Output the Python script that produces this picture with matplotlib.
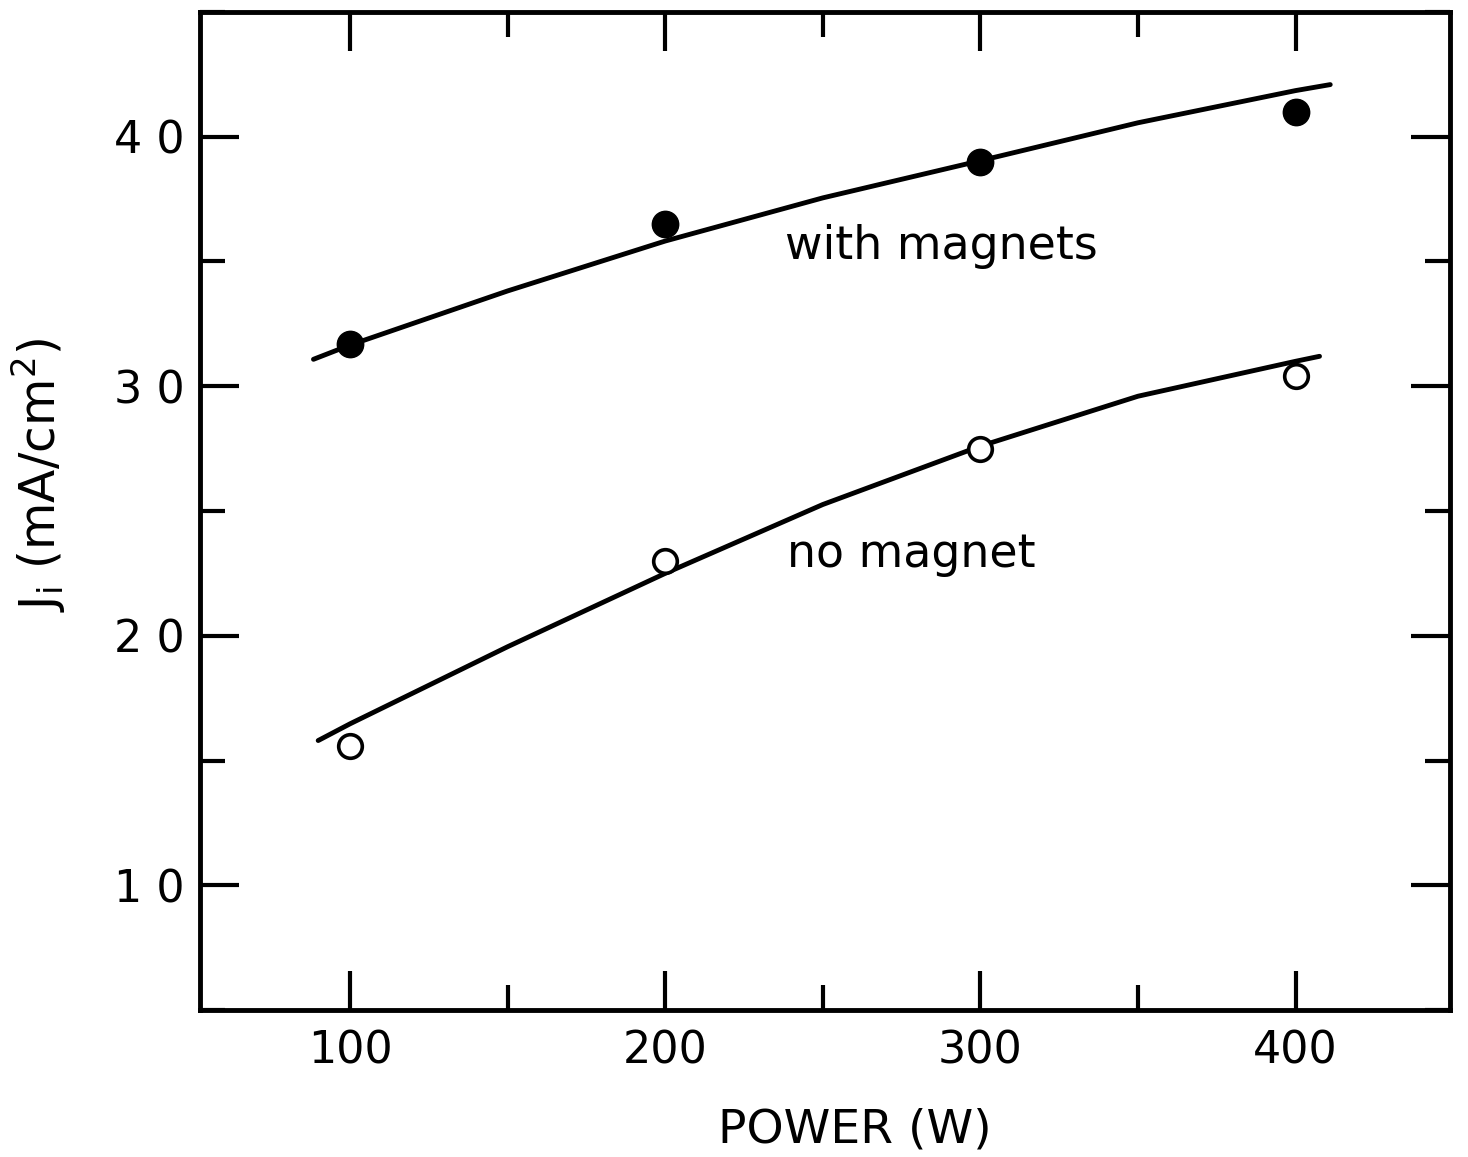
import matplotlib.pyplot as plt
from matplotlib.ticker import MultipleLocator

# measured points
power = [100, 200, 300, 400]
j_magnets = [31.7, 36.5, 39.0, 41.0]
j_no_magnet = [15.6, 23.0, 27.5, 30.4]

# hand-drawn curves
curve_power_mag = [88.4, 100, 150, 200, 250, 300, 350, 400, 411]
curve_mag = [31.08, 31.65, 33.82, 35.82, 37.55, 39.04, 40.56, 41.85, 42.09]
curve_power_no = [89.9, 100, 150, 200, 250, 300, 350, 400, 407.6]
curve_no = [15.8, 16.47, 19.56, 22.5, 25.26, 27.6, 29.6, 31.0, 31.2]

y_ticks = [10, 20, 30, 40]
y_ticklabels = ['1 0', '2 0', '3 0', '4 0']

plt.rcParams['font.family'] = ['DejaVu Sans']

fig = plt.figure(figsize=(14.68, 11.57), dpi=100)
ax = fig.add_axes([200 / 1468, 1 - 1010 / 1157, 1250 / 1468, 998 / 1157])

ax.plot(curve_power_mag, curve_mag, color='black', lw=3.5, solid_capstyle='round')
ax.plot(curve_power_no, curve_no, color='black', lw=3.5, solid_capstyle='round')
ax.plot(power, j_magnets, 'o', ms=19, color='black')
ax.plot(power, j_no_magnet, 'o', ms=17, mfc='white', mec='black', mew=2.6)

ax.text(238, 35.1, 'with magnets', fontsize=33, va='baseline', ha='left')
ax.text(238.6, 22.77, 'no magnet', fontsize=33, va='baseline', ha='left')

ax.set_xlim(52.4, 449)
ax.set_ylim(5, 45)
ax.set_xticks(power)
ax.set_yticks(y_ticks)
ax.set_yticklabels(y_ticklabels)
ax.xaxis.set_minor_locator(MultipleLocator(50))
ax.yaxis.set_minor_locator(MultipleLocator(5))
ax.tick_params(which='both', direction='in', top=True, right=True,
               labelsize=32, width=3)
ax.tick_params(axis='x', pad=14)
ax.tick_params(axis='y', pad=11)
ax.tick_params(which='major', length=28)
ax.tick_params(which='minor', length=18)
for sp in ax.spines.values():
    sp.set_linewidth(3.5)

ax.set_xlabel('POWER (W)', fontsize=34)
ax.xaxis.set_label_coords(0.524, -0.098)
ax.set_ylabel(r'J$_\mathregular{i}$ (mA/cm$^\mathregular{2}$)', fontsize=35)
ax.yaxis.set_label_coords(-0.106, 0.536)

fig.savefig('out.png', dpi=100, facecolor='white')
